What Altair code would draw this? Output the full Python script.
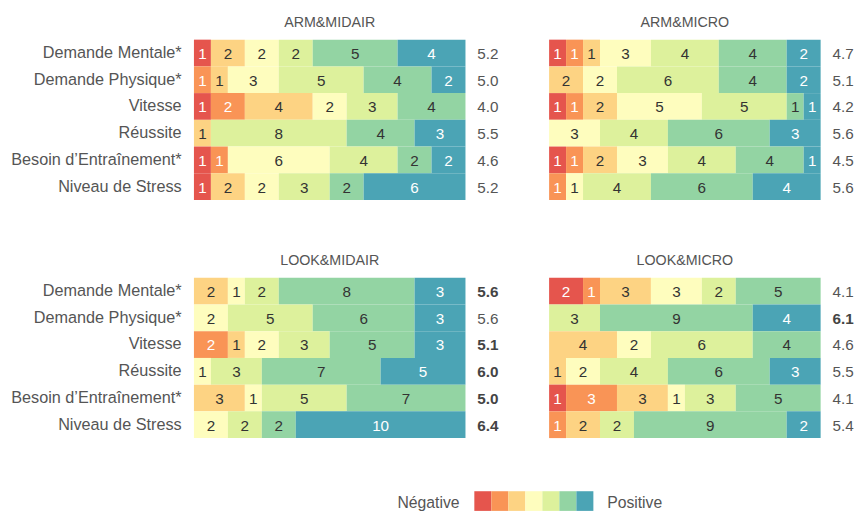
import altair as alt
import pandas as pd

items = ["Demande Mentale*", "Demande Physique*", "Vitesse", "Réussite",
         "Besoin d’Entraînement*", "Niveau de Stress"]
conditions = ["Arm&MidAir", "Arm&Micro", "Look&MidAir", "Look&Micro"]
titles = ["ARM&MIDAIR", "ARM&MICRO", "LOOK&MIDAIR", "LOOK&MICRO"]
levels = [1, 2, 3, 4, 5, 6, 7]
colors = ["#e5554d", "#f99456", "#fdd383", "#fefdbe", "#ddf19c", "#93d4a3", "#4ba4b5"]

# counts per answer level (1 = négative ... 7 = positive)
arm_midair = [
    [1, 0, 2, 2, 2, 5, 4],
    [0, 1, 1, 3, 5, 4, 2],
    [1, 2, 4, 2, 3, 4, 0],
    [0, 0, 1, 0, 8, 4, 3],
    [1, 1, 0, 6, 4, 2, 2],
    [1, 0, 2, 2, 3, 2, 6],
]
arm_micro = [
    [1, 1, 1, 3, 4, 4, 2],
    [0, 0, 2, 2, 6, 4, 2],
    [1, 1, 2, 5, 5, 1, 1],
    [0, 0, 0, 3, 4, 6, 3],
    [1, 1, 2, 3, 4, 4, 1],
    [0, 1, 0, 1, 4, 6, 4],
]
look_midair = [
    [0, 0, 2, 1, 2, 8, 3],
    [0, 0, 0, 2, 5, 6, 3],
    [0, 2, 1, 2, 3, 5, 3],
    [0, 0, 0, 1, 3, 7, 5],
    [0, 0, 3, 1, 5, 7, 0],
    [0, 0, 0, 2, 2, 2, 10],
]
look_micro = [
    [2, 1, 3, 3, 2, 5, 0],
    [0, 0, 0, 0, 3, 9, 4],
    [0, 0, 4, 2, 6, 4, 0],
    [0, 0, 1, 2, 4, 6, 3],
    [1, 3, 3, 1, 3, 5, 0],
    [0, 1, 2, 0, 2, 9, 2],
]

arm_midair_mean = ["5.2", "5.0", "4.0", "5.5", "4.6", "5.2"]
arm_micro_mean = ["4.7", "5.1", "4.2", "5.6", "4.5", "5.6"]
look_midair_mean = ["5.6", "5.6", "5.1", "6.0", "5.0", "6.4"]
look_micro_mean = ["4.1", "6.1", "4.6", "5.5", "4.1", "5.4"]

arm_midair_bold = [0, 0, 0, 0, 0, 0]
arm_micro_bold = [0, 0, 0, 0, 0, 0]
look_midair_bold = [1, 0, 1, 1, 1, 1]
look_micro_bold = [0, 1, 0, 0, 0, 0]

counts_all = [arm_midair, arm_micro, look_midair, look_micro]
means_all = [arm_midair_mean, arm_micro_mean, look_midair_mean, look_micro_mean]
bold_all = [arm_midair_bold, arm_micro_bold, look_midair_bold, look_micro_bold]

rows = []
for cond, mat in zip(conditions, counts_all):
    for item, cnts in zip(items, mat):
        for lev, c in zip(levels, cnts):
            if c > 0:
                rows.append({"cond": cond, "item": item, "level": lev, "count": c,
                             "light": lev in (1, 2, 7)})
df = pd.DataFrame(rows)

mrows = []
for cond, ms, bs in zip(conditions, means_all, bold_all):
    for item, m, b in zip(items, ms, bs):
        mrows.append({"cond": cond, "item": item, "mean": m, "bold": b})
mdf = pd.DataFrame(mrows)

FONT = "Liberation Sans"
W = 276
H = 163
TOTAL = 16

color_scale = alt.Scale(domain=levels, range=colors)


def panel(idx, show_labels):
    cond = conditions[idx]
    if show_labels:
        yaxis = alt.Axis(title=None, domain=False, ticks=False, labelFontSize=16.5,
                         labelColor="#555555", labelPadding=13, labelFont=FONT,
                         labelLimit=300)
    else:
        yaxis = None
    y = alt.Y("item:N", sort=items, axis=yaxis,
              scale=alt.Scale(paddingInner=0, paddingOuter=0))
    base = alt.Chart(df).transform_filter(alt.datum.cond == cond).transform_stack(
        stack="count", groupby=["item"], sort=[alt.SortField("level")],
        as_=["x0", "x1"]
    ).transform_calculate(mid="(datum.x0 + datum.x1) / 2")
    xs = alt.Scale(domain=[0, TOTAL], nice=False, zero=True)
    bars = base.mark_rect().encode(
        x=alt.X("x0:Q", scale=xs, axis=None),
        x2="x1:Q",
        y=y,
        color=alt.Color("level:O", scale=color_scale, legend=None),
    )
    txt = base.mark_text(fontSize=15.5, font=FONT, baseline="middle", dy=1).encode(
        x=alt.X("mid:Q", scale=xs, axis=None),
        y=y,
        text="count:Q",
        color=alt.condition(alt.datum.light, alt.value("#ffffff"), alt.value("#333333")),
    )
    mbase = alt.Chart(mdf).transform_filter(alt.datum.cond == cond)
    mnorm = mbase.transform_filter(alt.datum.bold == 0).mark_text(
        fontSize=15.5, font=FONT, align="left", baseline="middle", color="#555555", dy=1
    ).encode(x=alt.value(W + 12), y=y, text="mean:N")
    mbold = mbase.transform_filter(alt.datum.bold == 1).mark_text(
        fontSize=15.5, font=FONT, align="left", baseline="middle", color="#444444",
        fontWeight="bold", dy=1
    ).encode(x=alt.value(W + 12), y=y, text="mean:N")
    return alt.layer(bars, txt, mnorm, mbold).properties(
        width=W, height=H,
        title=alt.TitleParams(titles[idx], fontSize=14.5, font=FONT, color="#555555",
                              fontWeight="normal", anchor="middle", frame="group",
                              offset=9),
    )


top = alt.hconcat(panel(0, True), panel(1, False), spacing=51)
bottom = alt.hconcat(panel(2, True), panel(3, False), spacing=51)

leg_df = pd.DataFrame({"level": levels,
                       "x0": [l - 1 for l in levels],
                       "x1": levels})
leg_txt = pd.DataFrame({"label": ["Négative", "Positive"], "pos": [0, 7],
                        "side": ["left", "right"]})
lx = alt.Scale(domain=[0, 7], range=[285, 406])
leg_rect = alt.Chart(leg_df).mark_rect().encode(
    x=alt.X("x0:Q", scale=lx, axis=None),
    x2="x1:Q",
    y=alt.value(0), y2=alt.value(20),
    color=alt.Color("level:O", scale=color_scale, legend=None),
)
leg_l = alt.Chart(leg_txt).transform_filter(alt.datum.side == "left").mark_text(
    fontSize=16, font=FONT, align="right", baseline="middle", color="#555555", dx=-15
).encode(x=alt.X("pos:Q", scale=lx, axis=None), y=alt.value(12), text="label:N")
leg_r = alt.Chart(leg_txt).transform_filter(alt.datum.side == "right").mark_text(
    fontSize=16, font=FONT, align="left", baseline="middle", color="#555555", dx=14
).encode(x=alt.X("pos:Q", scale=lx, axis=None), y=alt.value(12), text="label:N")
legend = alt.layer(leg_rect, leg_l, leg_r).properties(width=500, height=20)

chart = alt.vconcat(top, bottom, legend, spacing=54).properties(
    padding={"left": 2, "top": 3, "right": 5, "bottom": 0},
    background="white",
).configure_view(strokeWidth=0, stroke="transparent")

chart.save("out.html", embed_options={"renderer": "svg", "actions": False})
